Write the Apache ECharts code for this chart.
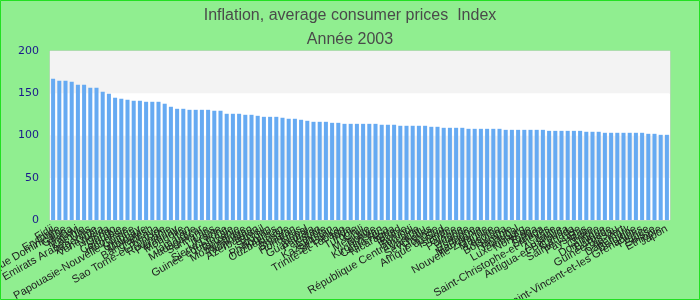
<!DOCTYPE html>
<html>
<head>
<meta charset="utf-8">
<script src="https://cdn.jsdelivr.net/npm/echarts@6/dist/echarts.min.js"></script>
<style>
html,body{margin:0;padding:0;background:#90ee90;}
#chart{width:700px;height:300px;}
</style>
</head>
<body>
<div id="chart"></div>
<script>
const titleText = "Inflation, average consumer prices  Index";
const subtitleText = "Année 2003";
const yTicks = [0, 50, 100, 150, 200];
const countries = [
"Fidji","Erythrée","République Dominicaine","Ghana","Malawi","Zambie","Emirats Arabes Unis","Argentine","Venezuela","Nigeria",
"Congo","Colombie","Indonésie","Papouasie-Nouvelle-Guinée","Uruguay","Moldavie","Bangladesh","Kenya","Sao Tome-et-Principe","Roumanie",
"Paraguay","Mongolie","Iran","Jamaïque","Madagascar","Suriname","Laos","Ukraine","Sierra Leone","Guinée équatoriale",
"Tanzanie","Mozambique","Tadjikistan","Azerbaïdjan","Brésil","Soudan","Philippines","Ouzbékistan","Russie","Bhoutan",
"Honduras","Népal","Guatemala","Pakistan","Égypte","Kazakhstan","Sri Lanka","Trinité-et-Tobago","Inde","Turquie",
"Chili","Mexique","Bolivie","Kirghizistan","Costa Rica","Nicaragua","Tchad","Belize","Burundi","République Centrafricaine",
"Vanuatu","Seychelles","Hongrie","Afrique du Sud","Islande","Grèce","Pologne","Irlande","Espagne","Mauritanie",
"Nouvelle-Zélande","Maurice","Lesotho","Botswana","Namibie","Portugal","Luxembourg","Norvège","Tonga","Samoa",
"Saint-Christophe-et-Niévès","Italie","Australie","Antigua-et-Barbuda","Canada","Sainte-Lucie","Pays-Bas","Malte","Chypre","Dominique",
"Barbade","Guinée-Bissau","Cap-Vert","Danemark","Belgique","Saint-Vincent-et-les Grenadines","France","Suisse","Ethiopie","Japon"
];
const values = [
167.2,164.8,164.8,163.7,160.1,160.1,156.5,156.5,151.8,149.4,
144.7,143.5,142.3,141.1,141.1,139.9,139.9,139.9,137.6,134.0,
131.6,131.6,130.4,130.4,130.4,130.4,129.3,129.3,125.7,125.7,
125.7,124.5,124.5,123.3,122.1,122.1,122.1,121.0,119.8,119.8,
118.6,117.4,116.2,116.2,116.2,115.0,115.0,113.8,113.8,113.8,
113.8,113.8,113.8,112.7,112.7,112.7,111.5,111.5,111.5,111.5,
111.5,110.3,110.3,109.1,109.1,109.1,109.1,107.9,107.9,107.9,
107.9,107.9,107.9,106.7,106.7,106.7,106.7,106.7,106.7,106.7,
105.5,105.5,105.5,105.5,105.5,105.5,104.4,104.4,104.4,103.2,
103.2,103.2,103.2,103.2,103.2,103.2,102.0,102.0,100.8,100.8
];

const chart = echarts.init(document.getElementById('chart'));
chart.setOption({
  backgroundColor: '#90ee90',
  animation: false,
  title: [
    {text: titleText, left: 'center', top: 3,
     textStyle: {fontFamily: 'Liberation Sans, Arial, sans-serif', fontSize: 16, fontWeight: 'normal', color: '#4a4a4a'}},
    {text: subtitleText, left: 'center', top: 27,
     textStyle: {fontFamily: 'Liberation Sans, Arial, sans-serif', fontSize: 16, fontWeight: 'normal', color: '#4a4a4a'}}
  ],
  graphic: [{
    type: 'rect', silent: true, z: 100,
    shape: {x: 0.5, y: 0.5, width: 699, height: 299},
    style: {fill: 'none', stroke: '#22e022', lineWidth: 1}
  }],
  grid: {left: 50, right: 30, top: 51, bottom: 80, containLabel: false, outerBoundsMode: 'none',
    show: true, borderColor: '#cccccc', borderWidth: 1, backgroundColor: '#ffffff'},
  xAxis: {
    type: 'category', data: countries,
    axisLine: {show: false}, axisTick: {show: false},
    axisLabel: {interval: 0, rotate: 30, margin: 8, fontSize: 11, color: '#222',
      fontFamily: 'Liberation Sans, Arial, sans-serif', hideOverlap: false}
  },
  yAxis: {
    type: 'value', min: yTicks[0], max: yTicks[yTicks.length-1], interval: 50,
    axisLine: {show: false}, axisTick: {show: false},
    splitLine: {show: false},
    splitArea: {show: true, areaStyle: {color: ['#ffffff', '#f3f3f3']}},
    axisLabel: {fontSize: 11, color: '#1a1a8c', margin: 11, fontFamily: 'DejaVu Sans, sans-serif'}
  },
  series: [{
    type: 'bar', data: values, barCategoryGap: '35%',
    itemStyle: {color: '#66aaf2'}
  }]
});
</script>
</body>
</html>
